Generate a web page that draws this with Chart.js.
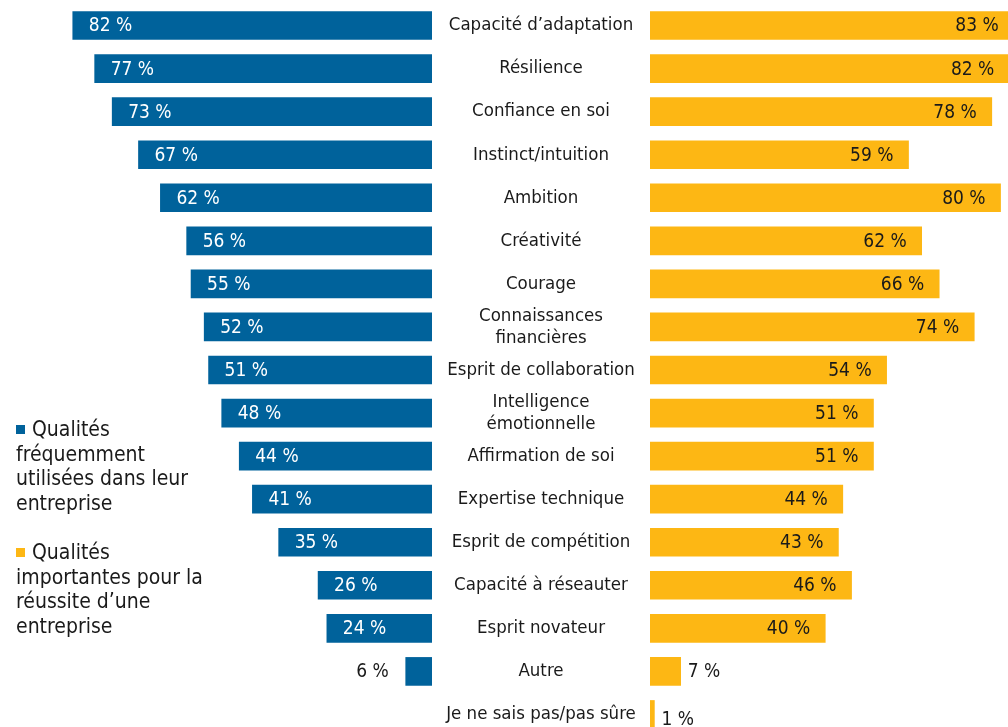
<!DOCTYPE html>
<html lang="fr">
<head>
    <meta charset="UTF-8">
    <title>Qualités</title>
    <script src="https://cdn.jsdelivr.net/npm/chart.js"></script>
    <style>
        body { margin: 0; width: 1008px; height: 727px; overflow: hidden; background: #fff; font-family: "DejaVu Sans Condensed", "DejaVu Sans", sans-serif; }
        #leftWrap { position: absolute; left: 0; top: -7px; }
        #rightWrap { position: absolute; left: 650px; top: -7px; }
        #legend { position: absolute; left: 16px; top: 417px; font-size: 21px; line-height: 24.6px; color: #1a1a1a; }
        #legend .sq { display: inline-block; width: 9px; height: 9px; margin-right: 7px; vertical-align: 2px; }
    </style>
</head>
<body>
    <div id="leftWrap"><canvas id="leftChart" width="650" height="754"></canvas></div>
    <div id="rightWrap"><canvas id="rightChart" width="358" height="754"></canvas></div>
    <div id="legend">
        <div><span class="sq" style="background:#00629B"></span>Qualités<br>fréquemment<br>utilisées dans leur<br>entreprise</div>
        <br>
        <div><span class="sq" style="background:#FDB714"></span>Qualités<br>importantes pour la<br>réussite d’une<br>entreprise</div>
    </div>
    <script>
        const categories = [
            ['Capacité d’adaptation'], ['Résilience'], ['Confiance en soi'], ['Instinct/intuition'],
            ['Ambition'], ['Créativité'], ['Courage'], ['Connaissances', 'financières'],
            ['Esprit de collaboration'], ['Intelligence', 'émotionnelle'], ['Affirmation de soi'],
            ['Expertise technique'], ['Esprit de compétition'], ['Capacité à réseauter'],
            ['Esprit novateur'], ['Autre'], ['Je ne sais pas/pas sûre']
        ];
        const frequentValues = [82, 77, 73, 67, 62, 56, 55, 52, 51, 48, 44, 41, 35, 26, 24, 6, null];
        const importantValues = [83, 82, 78, 59, 80, 62, 66, 74, 54, 51, 51, 44, 43, 46, 40, 7, 1];

        const BLUE = '#00629B';
        const YELLOW = '#FDB714';
        const FONT = '"DejaVu Sans Condensed", "DejaVu Sans", sans-serif';
        const lineH = 22;
        const catFont = { family: FONT, size: 18.5, lineHeight: lineH + 'px' };
        const padV = lineH / 2; // marge que l'axe y réserve en haut et en bas

        // largeur du libellé le plus long, pour centrer la colonne des catégories
        const mctx = document.createElement('canvas').getContext('2d');
        mctx.font = catFont.size + 'px ' + FONT;
        let widest = 0;
        categories.forEach(c => c.forEach(l => { widest = Math.max(widest, mctx.measureText(l).width); }));
        const axisWidth = 218;

        function valueLabels(side) {
            return {
                id: 'valueLabels' + side,
                afterDatasetsDraw(chart) {
                    const ctx = chart.ctx;
                    const meta = chart.getDatasetMeta(0);
                    const data = chart.data.datasets[0].data;
                    ctx.save();
                    ctx.font = '19px ' + FONT;
                    ctx.textBaseline = 'middle';
                    ctx.fillStyle = '#1a1a1a';
                    meta.data.forEach((bar, i) => {
                        const v = data[i];
                        if (v === null) return;
                        const txt = v + ' %';
                        let y = bar.y + 1;
                        if (side === 'left') {
                            if (v >= 10) {
                                ctx.fillStyle = '#fff';
                                ctx.textAlign = 'left';
                                ctx.fillText(txt, bar.x + 16, y);
                            } else {
                                ctx.fillStyle = '#1a1a1a';
                                ctx.textAlign = 'right';
                                ctx.fillText(txt, bar.x - 17, y);
                            }
                        } else {
                            if (v >= 10) {
                                ctx.textAlign = 'right';
                                ctx.fillText(txt, bar.x - 15, y);
                            } else {
                                if (v < 2) y += 5;
                                ctx.textAlign = 'left';
                                ctx.fillText(txt, bar.x + 7, y);
                            }
                        }
                    });
                    ctx.restore();
                }
            };
        }

        new Chart(document.getElementById('leftChart'), {
            type: 'bar',
            data: {
                labels: categories,
                datasets: [{ data: frequentValues, backgroundColor: BLUE, barThickness: 28 }]
            },
            options: {
                indexAxis: 'y',
                responsive: false,
                animation: false,
                layout: { padding: { left: 64, top: 0, bottom: 0, right: 0 } },
                plugins: { legend: { display: false }, tooltip: { enabled: false } },
                scales: {
                    x: { reverse: true, min: 0, max: 84, display: false },
                    y: {
                        position: 'right',
                        grid: { display: false, drawTicks: true, tickLength: axisWidth / 2 - widest / 2 },
                        border: { display: false },
                        ticks: {
                            crossAlign: 'center',
                            padding: 0,
                            color: '#1a1a1a',
                            font: catFont,
                            autoSkip: false
                        },
                        afterFit(scale) { scale.width = axisWidth; }
                    }
                }
            },
            plugins: [valueLabels('left')]
        });

        new Chart(document.getElementById('rightChart'), {
            type: 'bar',
            data: {
                labels: categories,
                datasets: [{ data: importantValues, backgroundColor: YELLOW, barThickness: 28 }]
            },
            options: {
                indexAxis: 'y',
                responsive: false,
                animation: false,
                layout: { padding: { left: 0, top: padV, bottom: padV, right: 0 } },
                plugins: { legend: { display: false }, tooltip: { enabled: false } },
                scales: {
                    x: { min: 0, max: 81.7, display: false },
                    y: { display: false }
                }
            },
            plugins: [valueLabels('right')]
        });
    </script>
</body>
</html>
